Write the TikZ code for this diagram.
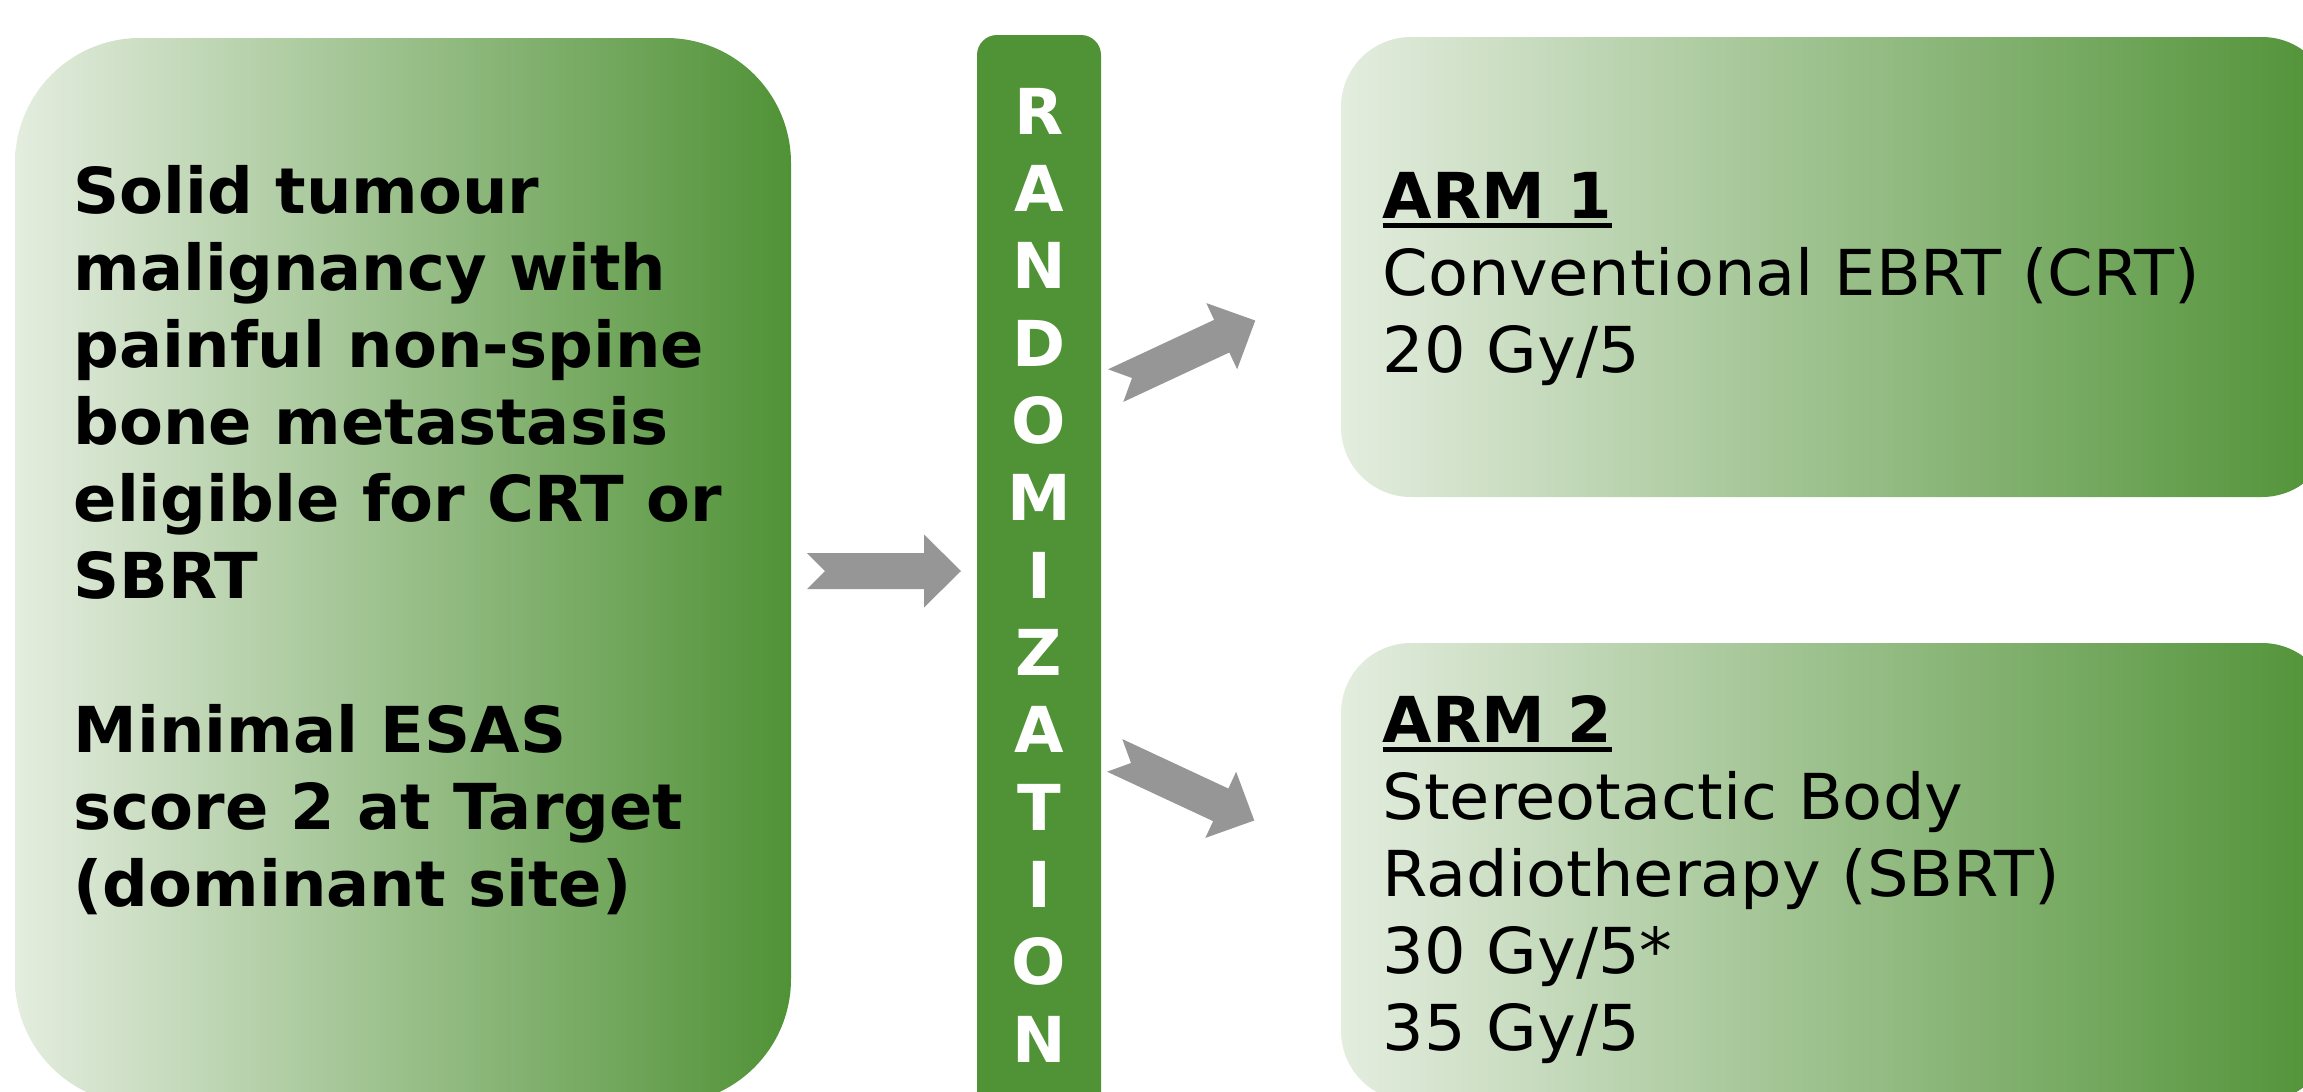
\documentclass[tikz,border=0pt]{standalone}
\usepackage{fontspec}
\setmainfont{DejaVu Sans}[UprightFeatures={FakeStretch=1.033}, BoldFeatures={FakeStretch=1.01}]
\definecolor{gdark}{RGB}{80,146,54}
\definecolor{glight}{RGB}{228,237,223}
\definecolor{garrow}{RGB}{150,150,150}
\newcommand{\thickul}[1]{\sbox0{#1}\rlap{\rule[-3pt]{\wd0}{1.4pt}}\usebox0}
\tikzset{
  gbox/.style={shading=axis, left color=glight, right color=gdark, draw=none, inner sep=0pt},
  barbox/.style={fill=gdark, draw=none, inner sep=0pt, rounded corners=6pt},
  lbl/.style={anchor=base west, align=left, inner sep=0pt, font=\fontsize{19pt}{23.1pt}\selectfont},
  barrow/.pic={\fill[garrow] (-18,-18) -- (99,-18) -- (99,-36.5) -- (136,0) -- (99,36.5) -- (99,18) -- (-18,18) -- (0,0) -- cycle;}
}
\begin{document}
\begin{tikzpicture}[x=0.3pt,y=-0.3pt]
\useasboundingbox (0,0) rectangle (2303,1092);
\clip (0,0) rectangle (2303,1092);
% boxes
\node[gbox, rounded corners=37.5pt, minimum width=776*0.3pt, minimum height=1066*0.3pt] (inbox) at (403,571) {};
\node[gbox, rounded corners=21pt, minimum width=991*0.3pt, minimum height=460*0.3pt] (arm1) at (1836.5,267) {};
\node[gbox, rounded corners=21pt, minimum width=991*0.3pt, minimum height=458*0.3pt] (arm2) at (1836.5,872) {};
\node[barbox, minimum width=124*0.3pt, minimum height=1105*0.3pt] (bar) at (1039,587.5) {};
% texts (base = last line)
\node[lbl, font=\bfseries\fontsize{19pt}{23.1pt}\selectfont] (intext) at (73,906) {Solid tumour\\malignancy with\\painful non-spine\\bone metastasis\\eligible for CRT or\\SBRT\\[23.1pt]Minimal ESAS\\score 2 at Target\\(dominant site)};
\node[lbl] (arm1text) at (1382,372) {\thickul{\textbf{ARM 1}}\\Conventional EBRT (CRT)\\20 Gy/5};
\node[lbl] (arm2text) at (1382,1050) {\thickul{\textbf{ARM 2}}\\Stereotactic Body\\Radiotherapy (SBRT)\\30 Gy/5*\\35 Gy/5};
\node[anchor=base, align=center, inner sep=0pt, text=white, font=\bfseries\fontsize{19pt}{23.2pt}\selectfont] (randtext) at (1039,1062) {R\\A\\N\\D\\O\\M\\I\\Z\\A\\T\\I\\O\\N};
% arrows
\pic (a0) at (825,571) {barrow};
\pic[rotate=25] (a1) at (1132,378) {barrow};
\pic[rotate=-25] (a2) at (1131,763) {barrow};
\end{tikzpicture}
\end{document}
